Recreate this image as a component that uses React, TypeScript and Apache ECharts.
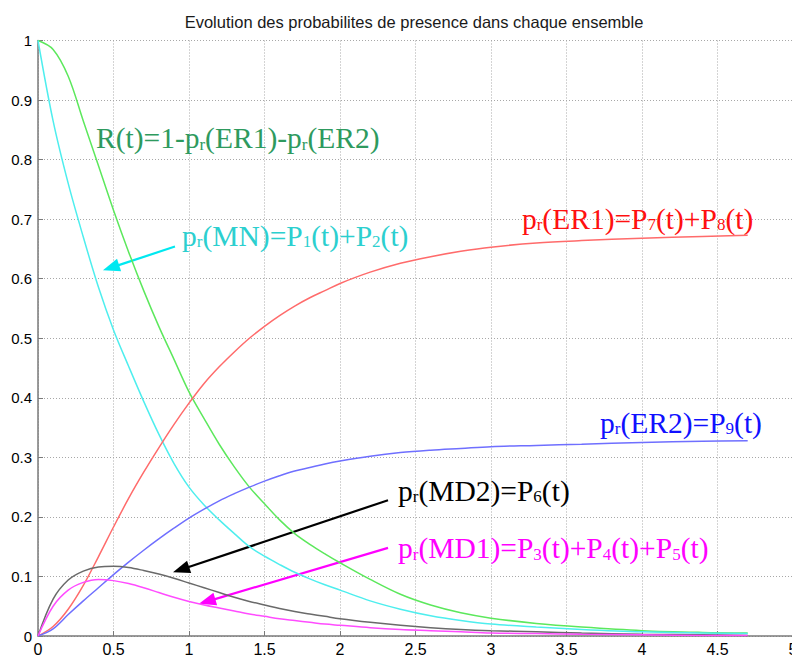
import React, { useEffect, useRef } from 'react';
import * as echarts from 'echarts';

// time axis (t)
const T = [0, 0.1, 0.2, 0.3, 0.4, 0.5, 0.6, 0.7, 0.8, 0.9, 1.0, 1.1, 1.2, 1.3, 1.4, 1.5, 1.6, 1.7, 1.8, 1.9, 2.0, 2.2, 2.4, 2.6, 2.8, 3.0, 3.3, 3.6, 4.0, 4.4, 4.7];

// R(t)=1-pr(ER1)-pr(ER2)
const R_T = [1, 0.985, 0.94, 0.865, 0.79, 0.715, 0.645, 0.58, 0.52, 0.465, 0.41, 0.365, 0.322, 0.284, 0.25, 0.222, 0.195, 0.172, 0.154, 0.138, 0.123, 0.095, 0.07, 0.052, 0.039, 0.03, 0.021, 0.015, 0.009, 0.006, 0.005];
// pr(MN)=P1+P2
const P_MN = [1, 0.865, 0.76, 0.67, 0.586, 0.514, 0.453, 0.394, 0.339, 0.29, 0.25, 0.22, 0.195, 0.172, 0.15, 0.134, 0.12, 0.107, 0.096, 0.086, 0.077, 0.059, 0.045, 0.034, 0.026, 0.02, 0.015, 0.011, 0.007, 0.005, 0.004];
// pr(ER1)=P7+P8
const P_ER1 = [0, 0.016, 0.045, 0.085, 0.133, 0.183, 0.231, 0.275, 0.316, 0.355, 0.391, 0.424, 0.452, 0.477, 0.5, 0.52, 0.538, 0.554, 0.568, 0.58, 0.592, 0.611, 0.626, 0.637, 0.646, 0.653, 0.66, 0.664, 0.668, 0.671, 0.673];
// pr(ER2)=P9
const P_ER2 = [0, 0.012, 0.036, 0.059, 0.081, 0.103, 0.124, 0.144, 0.163, 0.181, 0.198, 0.213, 0.227, 0.239, 0.25, 0.26, 0.269, 0.277, 0.283, 0.289, 0.294, 0.302, 0.308, 0.312, 0.315, 0.318, 0.32, 0.322, 0.325, 0.327, 0.328];
// pr(MD2)=P6
const P_MD2 = [0, 0.062, 0.094, 0.109, 0.116, 0.117, 0.115, 0.11, 0.104, 0.097, 0.089, 0.081, 0.073, 0.065, 0.058, 0.052, 0.046, 0.041, 0.037, 0.033, 0.029, 0.023, 0.018, 0.014, 0.011, 0.009, 0.007, 0.005, 0.003, 0.002, 0.001];
// pr(MD1)=P3+P4+P5
const P_MD1 = [0, 0.05, 0.077, 0.09, 0.095, 0.093, 0.088, 0.081, 0.073, 0.065, 0.058, 0.052, 0.047, 0.042, 0.037, 0.033, 0.029, 0.026, 0.023, 0.02, 0.018, 0.014, 0.011, 0.009, 0.007, 0.005, 0.004, 0.003, 0.002, 0.001, 0.001];

const TITLE = 'Evolution des probabilites de presence dans chaque ensemble';

const SERIES = [
  { name: 'R(t)', values: R_T, color: '#5ce85c' },
  { name: 'pr(MN)', values: P_MN, color: '#4eeeee' },
  { name: 'pr(ER1)', values: P_ER1, color: '#ff6b6b' },
  { name: 'pr(ER2)', values: P_ER2, color: '#6f6fff' },
  { name: 'pr(MD2)', values: P_MD2, color: '#6a6a6a' },
  { name: 'pr(MD1)', values: P_MD1, color: '#ff4cff' },
];

// annotation anchors in data coordinates (left, baseline)
const LABELS = [
  { text: 'R(t)=1-p{s|r}(ER1)-p{s|r}(ER2)', color: '#2e9a5e', at: [0.384, 0.82] },
  { text: 'p{s|r}(MN)=P{s|1}(t)+P{s|2}(t)', color: '#2ccfcf', at: [0.954, 0.656] },
  { text: 'p{s|r}(ER1)=P{s|7}(t)+P{s|8}(t)', color: '#ff1010', at: [3.205, 0.685] },
  { text: 'p{s|r}(ER2)=P{s|9}(t)', color: '#1010ff', at: [3.722, 0.342] },
  { text: 'p{s|r}(MD2)=P{s|6}(t)', color: '#000000', at: [2.384, 0.228] },
  { text: 'p{s|r}(MD1)=P{s|3}(t)+P{s|4}(t)+P{s|5}(t)', color: '#ff00ff', at: [2.384, 0.131] },
];

const ARROWS = [
  { from: [0.907, 0.654], to: [0.43, 0.614], color: '#00e8f0' },
  { from: [2.318, 0.228], to: [0.894, 0.107], color: '#000000' },
  { from: [2.318, 0.148], to: [1.066, 0.054], color: '#ff00ff' },
];

const SERIF = '"Liberation Serif", "Times New Roman", serif';
const SANS = '"Liberation Sans", Arial, Helvetica, sans-serif';

export default function App() {
  const ref = useRef<HTMLDivElement>(null);
  useEffect(() => {
    const chart = echarts.init(ref.current!, null, { renderer: 'svg' });
    const gridLine = { show: true, lineStyle: { color: '#a8a8a8', type: [1, 2], width: 1 } };
    chart.setOption({
      animation: false,
      backgroundColor: '#ffffff',
      grid: { left: 38, top: 40.5, width: 755, height: 595.5, containLabel: false, outerBoundsMode: 'none' },
      xAxis: {
        type: 'value', min: 0, max: 5, interval: 0.5,
        axisLine: { show: true, lineStyle: { color: '#7a7a7a', width: 1.5 } },
        axisTick: { show: true, inside: true, length: 5, lineStyle: { color: '#7a7a7a' } },
        axisLabel: { color: '#000', fontSize: 16, fontFamily: SANS, margin: 5, formatter: (v: number) => String(+v.toFixed(1)) },
        splitLine: gridLine,
      },
      yAxis: {
        type: 'value', min: 0, max: 1, interval: 0.1,
        axisLine: { show: true, lineStyle: { color: '#7a7a7a', width: 1.5 } },
        axisTick: { show: true, inside: true, length: 5, lineStyle: { color: '#7a7a7a' } },
        axisLabel: { color: '#000', fontSize: 15, fontFamily: SANS, margin: 6, formatter: (v: number) => String(+v.toFixed(1)) },
        splitLine: gridLine,
      },
      series: SERIES.map((s) => ({
        type: 'line', name: s.name, showSymbol: false, smooth: 0.35,
        lineStyle: { color: s.color, width: 1.5 },
        itemStyle: { color: s.color },
        data: T.map((t, i) => [t, s.values[i]]),
      })),
    });

    const px = (p: number[]) => chart.convertToPixel({ gridIndex: 0 }, p) as number[];
    const graphics: any[] = [];
    graphics.push({
      type: 'text', x: 414, y: 22,
      style: { text: TITLE, fontSize: 16.5, fontFamily: SANS, fill: '#1a1a1a', align: 'center', verticalAlign: 'middle' },
    });
    LABELS.forEach((l) => {
      const [x, y] = px(l.at);
      graphics.push({
        type: 'text', x, y: y - 9.5,
        style: {
          text: l.text, fontSize: 29.5, fontFamily: SERIF, fill: l.color, lineHeight: 29,
          align: 'left', verticalAlign: 'middle',
          rich: { s: { fontSize: 17, fontFamily: SERIF, fill: l.color, verticalAlign: 'bottom', lineHeight: 17 } },
        },
      });
    });
    ARROWS.forEach((a) => {
      const [x1, y1] = px(a.from);
      const [x2, y2] = px(a.to);
      const dx = x2 - x1, dy = y2 - y1;
      const len = Math.hypot(dx, dy);
      const ux = dx / len, uy = dy / len;
      const hl = 17, hw = 6.5;
      const bx = x2 - ux * hl, by = y2 - uy * hl;
      graphics.push({ type: 'line', shape: { x1, y1, x2: bx + ux * 2, y2: by + uy * 2 }, style: { stroke: a.color, lineWidth: 2.2 } });
      graphics.push({
        type: 'polygon',
        shape: { points: [[x2, y2], [bx - uy * hw, by + ux * hw], [bx + uy * hw, by - ux * hw]] },
        style: { fill: a.color },
      });
    });
    chart.setOption({ graphic: graphics });
    return () => chart.dispose();
  }, []);
  return <div ref={ref} style={{ position: 'absolute', left: 0, top: 0, width: 792, height: 658, background: '#fff' }} />;
}
